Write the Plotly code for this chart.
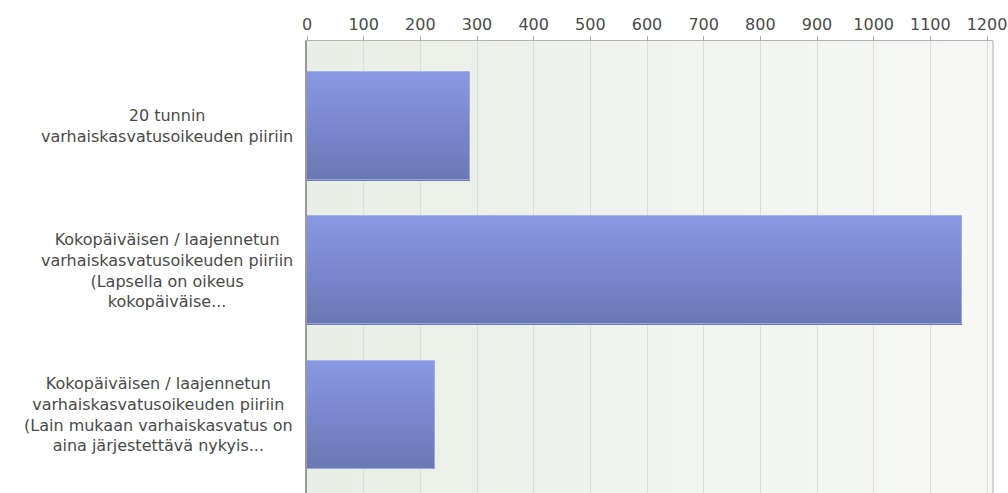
import plotly.graph_objects as go

# ---- data ----
categories = [
    "20 tunnin varhaiskasvatusoikeuden piiriin",
    "Kokopäiväisen / laajennetun varhaiskasvatusoikeuden piiriin (Lapsella on oikeus kokopäiväise...",
    "Kokopäiväisen / laajennetun varhaiskasvatusoikeuden piiriin (Lain mukaan varhaiskasvatus on aina järjestettävä nykyis...",
]
label_lines = [
    ["20 tunnin", "varhaiskasvatusoikeuden piiriin"],
    ["Kokopäiväisen / laajennetun", "varhaiskasvatusoikeuden piiriin", "(Lapsella on oikeus", "kokopäiväise..."],
    ["Kokopäiväisen / laajennetun", "varhaiskasvatusoikeuden piiriin", "(Lain mukaan varhaiskasvatus on", "aina järjestettävä nykyis..."],
]
values = [287, 1155, 226]
tick_values = [0, 100, 200, 300, 400, 500, 600, 700, 800, 900, 1000, 1100, 1200]

# ---- style ----
FONT = "DejaVu Sans"
TEXT = "#4a4a4a"
W, H = 1008, 493
ML, MR, MT, MB = 307, 15, 41, 0
BAR_W = 0.75
N_SLICES = 26
top_rgb = (136, 152, 226)
bot_rgb = (106, 120, 182)


def mix(a, b, t):
    return "rgb(%d,%d,%d)" % tuple(round(a[i] + (b[i] - a[i]) * t) for i in range(3))


fig = go.Figure()

# vertical gradient inside bars via thin overlaid slices
sw = BAR_W / N_SLICES
for i in range(N_SLICES):
    fig.add_trace(go.Bar(
        x=values, y=categories, orientation="h",
        width=sw * 1.15, offset=-BAR_W / 2 + i * sw,
        marker=dict(color=mix(top_rgb, bot_rgb, i / (N_SLICES - 1)), line=dict(width=0)),
        hoverinfo="skip", showlegend=False,
    ))
# outline
fig.add_trace(go.Bar(
    x=values, y=categories, orientation="h",
    width=BAR_W, offset=-BAR_W / 2,
    marker=dict(color="rgba(0,0,0,0)", line=dict(color="rgba(160,172,232,0.9)", width=1)),
    hovertemplate="%{x}<extra></extra>", showlegend=False,
))

# background horizontal gradient (left greenish -> right lighter)
bg_left = (233, 238, 230)
bg_right = (247, 248, 246)
NB = 30
shapes = []
for i in range(NB):
    shapes.append(dict(
        type="rect", xref="x domain", yref="y domain",
        x0=i / NB, x1=(i + 1) / NB + 0.002, y0=0, y1=1,
        fillcolor=mix(bg_left, bg_right, i / (NB - 1)), line=dict(width=0), layer="below",
    ))
# right border
shapes.append(dict(type="line", xref="x domain", yref="y domain", x0=1, x1=1, y0=0, y1=1,
                   line=dict(color="#c8c8c8", width=1.5), layer="above"))

annotations = []
for cat, lines in zip(categories, label_lines):
    annotations.append(dict(
        x=-0.0175, xref="paper", y=cat, yref="y",
        text="<br>".join(lines), showarrow=False,
        xanchor="right", yanchor="middle", align="center",
        font=dict(family=FONT, size=16, color=TEXT),
    ))

plot_w = W - ML - MR
fig.update_layout(
    width=W, height=H,
    margin=dict(l=ML, r=MR, t=MT, b=MB, pad=0),
    paper_bgcolor="white", plot_bgcolor="#eef1ec",
    barmode="overlay", bargap=0,
    font=dict(family=FONT, size=16, color=TEXT),
    shapes=shapes, annotations=annotations,
    xaxis=dict(
        side="top", range=[0, 1200 * plot_w / 680.0],
        tickmode="array", tickvals=tick_values, ticktext=[str(v) for v in tick_values],
        ticks="outside", ticklen=4, tickcolor="#aaaaaa",
        showgrid=True, gridcolor="#dcdfd9", gridwidth=1,
        showline=True, linecolor="#b0b0b0", linewidth=1,
        zeroline=False, fixedrange=True,
        tickfont=dict(family=FONT, size=16, color=TEXT),
    ),
    yaxis=dict(
        type="category", categoryorder="array", categoryarray=categories,
        range=[2.543, -0.589],
        showticklabels=False, showgrid=False, zeroline=False,
        showline=True, linecolor="#999999", linewidth=1.5,
        ticks="", fixedrange=True,
    ),
)

fig.write_html(
    "out.html",
    config={"displayModeBar": False},
    post_script="document.body.style.margin='0';document.body.style.overflow='hidden';",
)
